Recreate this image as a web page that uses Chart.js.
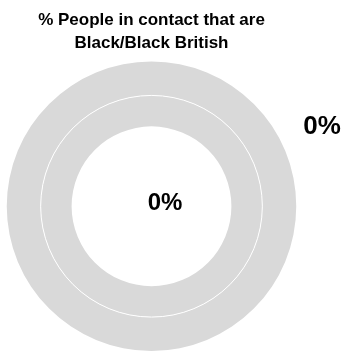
<!DOCTYPE html>
<html>
<head>
<meta charset="utf-8">
<script src="https://cdn.jsdelivr.net/npm/chart.js@4"></script>
<style>
html,body{margin:0;padding:0;background:#fff;}
#wrap{width:350px;height:351px;position:relative;}
</style>
</head>
<body>
<div id="wrap"><canvas id="c"></canvas></div>
<script>
const titleLines = ['% People in contact that are', 'Black/Black British'];
const categories = ['Black/Black British', 'Other'];
const outerValues = [0, 100];
const innerValues = [0, 100];
const sliceColors = ['#4472c4', '#d9d9d9'];

function pct(vals) {
  const t = vals.reduce((a, b) => a + b, 0);
  return Math.round(vals[0] / t * 100) + '%';
}

const ringDivider = {
  id: 'ringDivider',
  afterDatasetsDraw(chart) {
    const arc = chart.getDatasetMeta(0).data[1];
    if (!arc) return;
    const ctx = chart.ctx;
    ctx.save();
    ctx.strokeStyle = '#ffffff';
    ctx.lineWidth = 1;
    ctx.beginPath();
    ctx.arc(arc.x, arc.y, arc.innerRadius, 0, Math.PI * 2);
    ctx.stroke();
    ctx.restore();
  }
};

const valueLabels = {
  id: 'valueLabels',
  afterDraw(chart) {
    const arc = chart.getDatasetMeta(0).data[1];
    if (!arc) return;
    const ctx = chart.ctx;
    ctx.save();
    ctx.fillStyle = '#000';
    ctx.textAlign = 'center';
    ctx.textBaseline = 'middle';
    ctx.font = 'bold 24px "Liberation Sans"';
    ctx.fillText(pct(innerValues), arc.x + 13.5, arc.y - 2.5);
    ctx.font = 'bold 26px "Liberation Sans"';
    ctx.fillText(pct(outerValues), arc.x + 170.5, arc.y - 79.5);
    ctx.restore();
  }
};

new Chart(document.getElementById('c'), {
  type: 'doughnut',
  data: {
    labels: categories,
    datasets: [
      { label: 'Outer', data: outerValues, backgroundColor: sliceColors, borderWidth: 0, weight: 34 },
      { label: 'Inner', data: innerValues, backgroundColor: sliceColors, borderWidth: 0, weight: 31 }
    ]
  },
  options: {
    responsive: true,
    maintainAspectRatio: false,
    animation: false,
    cutout: '55.2%',
    layout: { padding: { left: 6.5, right: 53.5, top: 0, bottom: 0 } },
    plugins: {
      legend: { display: false },
      tooltip: { enabled: false },
      title: {
        display: true,
        text: titleLines,
        color: '#000',
        font: { family: '"Liberation Sans"', size: 17, weight: 'bold', lineHeight: 1.353 },
        padding: { top: 9, bottom: 6.5 }
      }
    }
  },
  plugins: [ringDivider, valueLabels]
});
</script>
</body>
</html>
